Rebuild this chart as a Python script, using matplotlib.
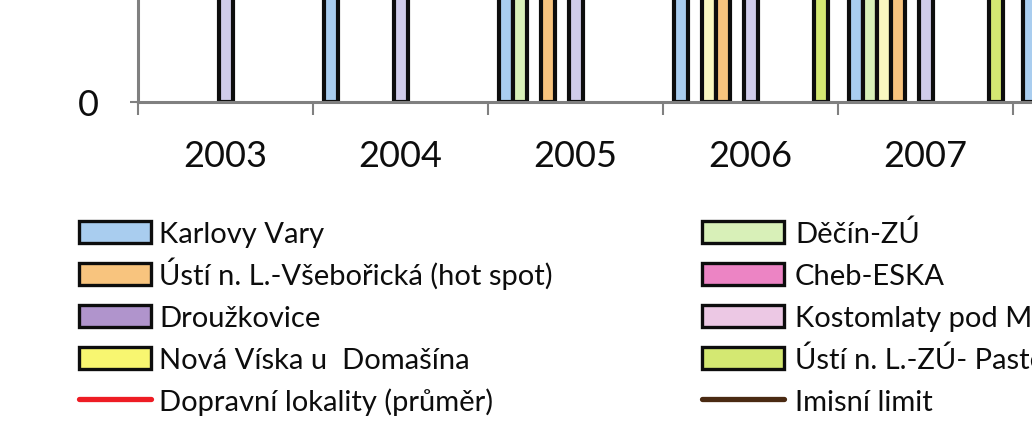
import numpy as np
import matplotlib
matplotlib.use("Agg")
import matplotlib.pyplot as plt
from matplotlib.patches import Patch
from matplotlib.lines import Line2D

plt.rcParams['font.family'] = ['Lato', 'DejaVu Sans']

nan = np.nan
# ---- data ----
categories = ['2003', '2004', '2005', '2006', '2007', '2008']

karlovy_vary = [nan, 28, 31, 33, 30, 27]
decin_zu = [nan, nan, 30, nan, 29, nan]
hidden_series_pale_yellow = [nan, nan, nan, 36, 34, nan]
usti_vseboricka = [nan, nan, 48, 47, 44, nan]
cheb_eska = [nan, nan, nan, nan, nan, nan]
hidden_series_lavender = [38, 35, 37, 36, 33, nan]
drouzkovice = [nan, nan, nan, nan, nan, nan]
kostomlaty = [nan, nan, nan, nan, nan, nan]
hidden_series_9 = [nan, nan, nan, nan, nan, nan]
nova_viska = [nan, nan, nan, nan, nan, nan]
usti_zu_pasteurova = [nan, nan, nan, 34, 32, nan]

dopravni_prumer = [44, 43, 46, 45, 42, 40]
imisni_limit = [40, 40, 40, 40, 40, 40]

labels_left = ['Karlovy Vary', 'Ústí n. L.-Všebořická (hot spot)', 'Droužkovice',
               'Nová Víska u  Domašína', 'Dopravní lokality (průměr)']
labels_right = ['Děčín-ZÚ', 'Cheb-ESKA', 'Kostomlaty pod Milešovkou',
                'Ústí n. L.-ZÚ- Pasteurova', 'Imisní limit']

# ---- styles ----
series = [
    (karlovy_vary, '#A9CDEF'),
    (decin_zu, '#D8F0B8'),
    (hidden_series_pale_yellow, '#FAF8C0'),
    (usti_vseboricka, '#F8C47E'),
    (cheb_eska, '#EC84C4'),
    (hidden_series_lavender, '#D0CCEA'),
    (drouzkovice, '#B094CC'),
    (kostomlaty, '#ECC8E4'),
    (hidden_series_9, '#CCCCCC'),
    (nova_viska, '#F8F670'),
    (usti_zu_pasteurova, '#D4E872'),
]

W, H = 1032, 435
fig = plt.figure(figsize=(W / 100, H / 100), dpi=100)
ax_left = 138 / W
ax_bottom = 1 - 102.5 / H
ax_width = 6 * 175 / W
ax_height = 435 / H
ax = fig.add_axes([ax_left, ax_bottom, ax_width, ax_height])

n = len(series)
w = 1 / (n + 1.5)
x = np.arange(len(categories))
for k, (vals, col) in enumerate(series):
    ax.bar(x + (k - (n - 1) / 2) * w, vals, width=w, color=col,
           edgecolor='#0D0D0D', linewidth=3.0, zorder=2)

ax.plot(x, dopravni_prumer, color='#EE1C24', lw=3.6, zorder=3)
ax.plot(x, imisni_limit, color='#4A2A12', lw=3.6, zorder=3)

ax.set_xlim(-0.5, len(categories) - 0.5)
ax.set_ylim(0, 60)
ax.set_yticks([0])
ax.set_yticklabels(['0'])

ax.set_xticks(np.arange(len(categories) + 1) - 0.5)
ax.set_xticklabels([])
ax.set_xticks(x, minor=True)
ax.set_xticklabels(categories, minor=True)

gray = '#808080'
for s in ['top', 'right']:
    ax.spines[s].set_visible(False)
for s in ['left', 'bottom']:
    ax.spines[s].set_color(gray)
    ax.spines[s].set_linewidth(2.2)
    ax.spines[s].set_zorder(4)

ax.tick_params(axis='x', which='major', length=9.5, width=1.5, color=gray, direction='out')
ax.tick_params(axis='x', which='minor', length=0, pad=27, labelsize=26, labelcolor='#0D0D0D')
ax.tick_params(axis='y', which='major', length=6, width=1.5, color=gray, direction='out',
               pad=22, labelsize=26, labelcolor='#0D0D0D')

# ---- legend (two visible columns, rows evenly spaced) ----
def patch(c):
    return Patch(facecolor=c, edgecolor='#0D0D0D', linewidth=2.4)

left_handles = [patch('#A9CDEF'), patch('#F8C47E'), patch('#B094CC'), patch('#F8F670'),
                Line2D([], [], color='#EE1C24', lw=3.8, solid_capstyle='round')]
right_handles = [patch('#D8F0B8'), patch('#EC84C4'), patch('#ECC8E4'), patch('#D4E872'),
                 Line2D([], [], color='#4A2A12', lw=3.8, solid_capstyle='round')]

fs_pt = 21
fs_px = fs_pt * 100 / 72
baselines = [242, 284, 326, 368, 410]
descent_px = 6
columns = [(79, 72, 8, left_handles, labels_left),
           (702, 82, 11, right_handles, labels_right)]
for x0, hlen, gap, handles, labels in columns:
    for h, lab, base in zip(handles, labels, baselines):
        fig.legend([h], [lab], loc='lower left', frameon=False, fontsize=fs_pt,
                   handlelength=hlen / fs_px, handleheight=0.8,
                   handletextpad=gap / fs_px, borderpad=0, borderaxespad=0,
                   labelcolor='#0D0D0D',
                   bbox_to_anchor=(x0 / W, 1 - (base + descent_px) / H))

fig.savefig('out.png', dpi=100)
